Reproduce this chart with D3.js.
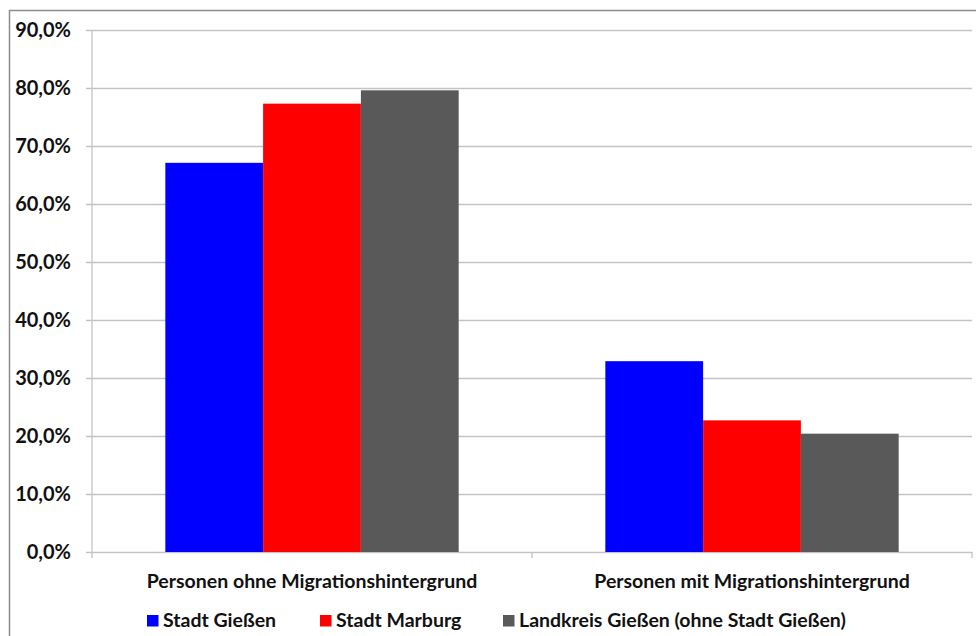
<!DOCTYPE html>
<html>
<head>
<meta charset="utf-8">
<script src="https://cdn.jsdelivr.net/npm/d3@7"></script>
<style>
  body { margin: 0; background: #fff; }
  text { font-family: Lato, "Open Sans", sans-serif; font-weight: bold; fill: #111; }
</style>
</head>
<body>
<div id="chart"></div>
<script>
// Data
const categories = ["Personen ohne Migrationshintergrund", "Personen mit Migrationshintergrund"];
const seriesNames = ["Stadt Gießen", "Stadt Marburg", "Landkreis Gießen (ohne Stadt Gießen)"];
const seriesColors = ["#0000ff", "#ff0000", "#595959"];
const stadtGiessen = [0.671, 0.329];
const stadtMarburg = [0.773, 0.227];
const landkreisGiessen = [0.796, 0.204];
const yTicks = [0, 0.1, 0.2, 0.3, 0.4, 0.5, 0.6, 0.7, 0.8, 0.9];

const seriesValues = [stadtGiessen, stadtMarburg, landkreisGiessen];

const W = 976, H = 636;
const plot = {left: 92, right: 972, top: 30, bottom: 552};

const svg = d3.select("#chart")
    .append("svg")
    .attr("width", W)
    .attr("height", H);

// outer frame (runs off the right and bottom edges)
svg.append("rect")
    .attr("x", 9.5).attr("y", 10.5)
    .attr("width", 1000).attr("height", 700)
    .attr("fill", "none")
    .attr("stroke", "#8c8c8c")
    .attr("stroke-width", 1.5);

const y = d3.scaleLinear().domain([0, 0.9]).range([plot.bottom, plot.top]);

const x0 = d3.scaleBand()
    .domain(categories)
    .range([plot.left, plot.right])
    .padding(0);

const x1 = d3.scaleBand()
    .domain(seriesNames)
    .range([0, x0.bandwidth()])
    .paddingInner(0)
    .paddingOuter(0.75);

const fmt = v => d3.format(".1f")(v * 100).replace(".", ",") + "%";

// gridlines + y axis
const yAxis = d3.axisLeft(y)
    .tickValues(yTicks)
    .tickSize(-(plot.right - plot.left))
    .tickFormat(fmt)
    .tickPadding(21);

const gy = svg.append("g")
    .attr("transform", `translate(${plot.left},0)`)
    .call(yAxis);
gy.select(".domain").remove();
gy.selectAll(".tick line")
    .attr("x1", -6)
    .attr("stroke", "#c4c4c4")
    .attr("stroke-width", 1.3);
gy.selectAll(".tick text")
    .style("font-size", "20px");

// vertical axis line
svg.append("line")
    .attr("x1", plot.left).attr("x2", plot.left)
    .attr("y1", plot.top).attr("y2", plot.bottom + 6)
    .attr("stroke", "#c4c4c4")
    .attr("stroke-width", 1.3);

// category tick marks below the baseline
svg.append("g")
    .selectAll("line")
    .data(categories.map(c => x0(c) + x0.bandwidth()))
    .enter()
    .append("line")
    .attr("x1", d => d).attr("x2", d => d)
    .attr("y1", plot.bottom).attr("y2", plot.bottom + 6)
    .attr("stroke", "#c4c4c4")
    .attr("stroke-width", 1.3);

// bars
const groups = svg.append("g")
    .selectAll("g")
    .data(categories)
    .enter()
    .append("g")
    .attr("transform", d => `translate(${x0(d)},0)`);

groups.selectAll("rect")
    .data((c, ci) => seriesNames.map((s, si) => ({s, si, v: seriesValues[si][ci]})))
    .enter()
    .append("rect")
    .attr("x", d => x1(d.s))
    .attr("y", d => y(d.v))
    .attr("width", x1.bandwidth())
    .attr("height", d => y(0) - y(d.v))
    .attr("fill", d => seriesColors[d.si]);

// category labels
svg.append("g")
    .selectAll("text")
    .data(categories)
    .enter()
    .append("text")
    .attr("x", d => x0(d) + x0.bandwidth() / 2)
    .attr("y", 588)
    .attr("text-anchor", "middle")
    .style("font-size", "19.5px")
    .text(d => d);

// legend
const legendX = [147, 320, 503];
const legend = svg.append("g")
    .selectAll("g")
    .data(seriesNames)
    .enter()
    .append("g")
    .attr("transform", (d, i) => `translate(${legendX[i]},615)`);

legend.append("rect")
    .attr("width", 11.5).attr("height", 11.5)
    .attr("fill", (d, i) => seriesColors[i]);

legend.append("text")
    .attr("x", 16)
    .attr("y", 11.5)
    .style("font-size", "19.5px")
    .text(d => d);
</script>
</body>
</html>
